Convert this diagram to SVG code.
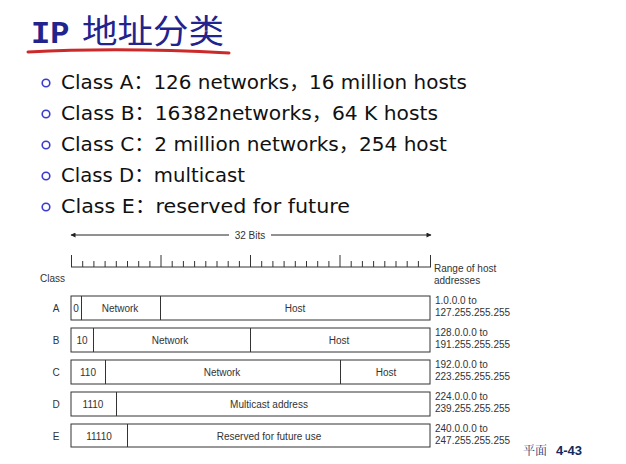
<svg xmlns="http://www.w3.org/2000/svg" width="626" height="464" viewBox="0 0 626 464">
  <style>
    .bul { font-family: "DejaVu Sans", "Noto Sans CJK SC", sans-serif; font-size: 20px; fill: #111; }
    .dot { fill: none; stroke: #3b3bd0; stroke-width: 1.6; }
    .sm { font-family: "Liberation Sans", Arial, sans-serif; font-size: 10px; fill: #333; }
    .box { fill: #fff; stroke: #333; stroke-width: 1; }
    .div { stroke: #333; stroke-width: 1; }
    .tick { stroke: #333; stroke-width: 1; }
  </style>
  <defs>
    <marker id="ah" viewBox="0 0 10 10" refX="9" refY="5" markerWidth="7" markerHeight="5" orient="auto-start-reverse" markerUnits="userSpaceOnUse">
      <path d="M0,0 L10,5 L0,10 z" fill="#222"/>
    </marker>
  </defs>
  <rect width="626" height="464" fill="#fff"/>

  <!-- heading -->
  <g id="title">
    <text x="31" y="43" font-family="Liberation Mono, monospace" font-weight="bold" font-size="32" fill="#23238e">IP</text>
    <text x="82" y="43" font-family="Noto Sans CJK SC, sans-serif" font-size="33" fill="#23238e" textLength="142" lengthAdjust="spacingAndGlyphs">地址分类</text>
    <path d="M28,52 Q120,47 229,53" fill="none" stroke="#cc2a2a" stroke-width="3" stroke-linecap="round"/>
  </g>

  <!-- bullet list -->
  <g id="bullets">
    <circle class="dot" cx="46" cy="83" r="3.8"/>
    <text class="bul" x="61" y="89" textLength="406" lengthAdjust="spacingAndGlyphs">Class A：126 networks，16 million hosts</text>
    <circle class="dot" cx="46" cy="114" r="3.8"/>
    <text class="bul" x="61" y="120" textLength="377" lengthAdjust="spacingAndGlyphs">Class B：16382networks，64 K hosts</text>
    <circle class="dot" cx="46" cy="145" r="3.8"/>
    <text class="bul" x="61" y="151" textLength="386" lengthAdjust="spacingAndGlyphs">Class C：2 million networks，254 host</text>
    <circle class="dot" cx="46" cy="176" r="3.8"/>
    <text class="bul" x="61" y="182" textLength="184" lengthAdjust="spacingAndGlyphs">Class D：multicast</text>
    <circle class="dot" cx="46" cy="207" r="3.8"/>
    <text class="bul" x="61" y="213" textLength="289" lengthAdjust="spacingAndGlyphs">Class E：reserved for future</text>
  </g>

  <!-- width arrow and bit ruler -->
  <g id="ruler">
    <line x1="229" y1="235" x2="71" y2="235" stroke="#222" stroke-width="1" marker-end="url(#ah)"/>
    <line x1="271" y1="235" x2="431" y2="235" stroke="#222" stroke-width="1" marker-end="url(#ah)"/>
    <text class="sm" x="250" y="238.5" text-anchor="middle">32 Bits</text>
    <line class="tick" x1="71" y1="267" x2="431" y2="267"/>
    <path class="tick" fill="none" d="M71.5,255V267 M161,255V267 M250.5,255V267 M340,255V267 M430.5,255V267
      M82.7,261V267 M93.9,261V267 M105.1,261V267 M116.3,261V267 M127.5,261V267 M138.7,261V267 M149.9,261V267
      M172.2,261V267 M183.4,261V267 M194.6,261V267 M205.8,261V267 M217,261V267 M228.2,261V267 M239.4,261V267
      M261.7,261V267 M272.9,261V267 M284.1,261V267 M295.3,261V267 M306.5,261V267 M317.7,261V267 M328.9,261V267
      M351.2,261V267 M362.4,261V267 M373.6,261V267 M384.8,261V267 M396,261V267 M407.2,261V267 M418.4,261V267"/>
    <text class="sm" x="40" y="282">Class</text>
    <text class="sm" x="434" y="272">Range of host</text>
    <text class="sm" x="434" y="284">addresses</text>
  </g>

  <g id="classA">
    <text class="sm" x="56" y="312" text-anchor="middle">A</text>
    <rect class="box" x="71" y="296" width="359" height="24"/>
    <line class="div" x1="81.5" y1="296" x2="81.5" y2="320"/>
    <line class="div" x1="160.5" y1="296" x2="160.5" y2="320"/>
    <text class="sm" x="76" y="312" text-anchor="middle">0</text>
    <text class="sm" x="120" y="312" text-anchor="middle">Network</text>
    <text class="sm" x="295" y="312" text-anchor="middle">Host</text>
    <text class="sm" x="435" y="304">1.0.0.0 to</text>
    <text class="sm" x="435" y="316">127.255.255.255</text>
  </g>

  <g id="classB">
    <text class="sm" x="56" y="344" text-anchor="middle">B</text>
    <rect class="box" x="71" y="328" width="359" height="24"/>
    <line class="div" x1="93.5" y1="328" x2="93.5" y2="352"/>
    <line class="div" x1="250.5" y1="328" x2="250.5" y2="352"/>
    <text class="sm" x="82" y="344" text-anchor="middle">10</text>
    <text class="sm" x="170" y="344" text-anchor="middle">Network</text>
    <text class="sm" x="339" y="344" text-anchor="middle">Host</text>
    <text class="sm" x="435" y="336">128.0.0.0 to</text>
    <text class="sm" x="435" y="348">191.255.255.255</text>
  </g>

  <g id="classC">
    <text class="sm" x="56" y="376" text-anchor="middle">C</text>
    <rect class="box" x="71" y="360" width="359" height="24"/>
    <line class="div" x1="105.5" y1="360" x2="105.5" y2="384"/>
    <line class="div" x1="340.5" y1="360" x2="340.5" y2="384"/>
    <text class="sm" x="88" y="376" text-anchor="middle">110</text>
    <text class="sm" x="222" y="376" text-anchor="middle">Network</text>
    <text class="sm" x="386" y="376" text-anchor="middle">Host</text>
    <text class="sm" x="435" y="368">192.0.0.0 to</text>
    <text class="sm" x="435" y="380">223.255.255.255</text>
  </g>

  <g id="classD">
    <text class="sm" x="56" y="408" text-anchor="middle">D</text>
    <rect class="box" x="71" y="392" width="359" height="24"/>
    <line class="div" x1="116.5" y1="392" x2="116.5" y2="416"/>
    <text class="sm" x="93" y="408" text-anchor="middle">1110</text>
    <text class="sm" x="269" y="408" text-anchor="middle">Multicast address</text>
    <text class="sm" x="435" y="400">224.0.0.0 to</text>
    <text class="sm" x="435" y="412">239.255.255.255</text>
  </g>

  <g id="classE">
    <text class="sm" x="56" y="440" text-anchor="middle">E</text>
    <rect class="box" x="71" y="424" width="359" height="23"/>
    <line class="div" x1="127.5" y1="424" x2="127.5" y2="447"/>
    <text class="sm" x="99" y="440" text-anchor="middle">11110</text>
    <text class="sm" x="269" y="440" text-anchor="middle">Reserved for future use</text>
    <text class="sm" x="435" y="432">240.0.0.0 to</text>
    <text class="sm" x="435" y="444">247.255.255.255</text>
  </g>

  <!-- page footer -->
  <g id="footer">
    <text x="523" y="455" font-family="Noto Serif CJK SC, Noto Sans CJK SC, serif" font-size="12" fill="#1f3a7a">平面</text>
    <text x="556" y="455" font-family="Liberation Sans, Arial, sans-serif" font-weight="bold" font-size="13" fill="#14285a">4-43</text>
  </g>
</svg>
